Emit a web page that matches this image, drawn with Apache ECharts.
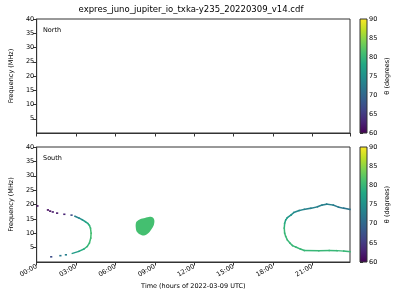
<!DOCTYPE html>
<html>
<head>
<meta charset="utf-8">
<script src="https://cdn.jsdelivr.net/npm/echarts@6/dist/echarts.min.js"></script>
<style>html,body{margin:0;padding:0;background:#fff}#c{width:400px;height:300px}</style>
</head>
<body>
<div id="c"></div>
<script>
// ---- data (hours, MHz, theta degrees) ----
const titleText = 'expres_juno_jupiter_io_txka-y235_20220309_v14.cdf';
const panelNames = ['North', 'South'];
const xTickHours = [0, 3, 6, 9, 12, 15, 18, 21];
const freqTicks = [5, 10, 15, 20, 25, 30, 35, 40];
const thetaTicks = [60, 65, 70, 75, 80, 85, 90];

// South: sparse points of the left arc
const southLeftDots = [
  [0.05, 19.5, 61], [0.85, 18.1, 61], [1.02, 17.7, 61], [1.22, 17.4, 62],
  [1.55, 17.0, 62], [2.1, 16.6, 63], [2.65, 16.3, 67],
  [1.1, 1.8, 67], [1.8, 2.2, 72], [2.22, 2.5, 73]
];
// South: continuous part of the left arc
const southLeftCurve = [
  [2.92, 15.9, 72], [3.22, 15.3, 74], [3.47, 14.7, 75], [3.72, 14.0, 77],
  [3.9, 13.4, 78], [4.02, 12.7, 79], [4.1, 11.8, 80], [4.15, 10.0, 81],
  [4.12, 8.3, 81], [4.02, 6.6, 80], [3.85, 5.4, 80], [3.6, 4.5, 79],
  [3.22, 3.7, 78], [2.72, 3.0, 75]
];
// South: right arc (top branch from right edge to nose, then lower branch)
const southRightCurve = [
  [23.88, 18.3, 71], [23.4, 18.7, 72], [23.0, 19.1, 72], [22.6, 19.8, 73],
  [22.1, 20.1, 73], [21.75, 19.8, 73], [21.4, 19.2, 73], [20.9, 18.7, 73],
  [20.4, 18.3, 73], [20.0, 17.9, 74], [19.6, 17.2, 74], [19.4, 16.4, 75],
  [19.1, 15.4, 76], [18.98, 14.6, 77], [18.9, 13.5, 78], [18.87, 11.8, 80],
  [18.9, 10.0, 80], [18.98, 8.9, 80], [19.1, 7.7, 80], [19.3, 6.6, 80],
  [19.5, 5.7, 80], [19.75, 5.2, 80], [20.1, 4.5, 80], [20.4, 4.0, 80],
  [21.5, 3.95, 80], [22.3, 4.0, 80], [22.9, 3.95, 80], [23.4, 3.8, 80],
  [23.88, 3.6, 80]
];
// South: blob outline (hours, MHz) and its theta
const southBlobOutline = [
  [7.62, 14.05], [7.88, 14.9], [8.25, 15.3], [8.63, 15.7], [8.87, 15.4],
  [8.97, 14.4], [8.93, 12.9], [8.75, 11.4], [8.5, 10.0], [8.18, 9.2],
  [7.88, 9.55], [7.62, 10.6], [7.55, 12.1], [7.55, 13.25]
];
const southBlobTheta = 81;

// ---- colour map ----
const VIRIDIS = ['#440154','#482475','#414487','#355f8d','#2a788e','#21918c','#22a884','#44bf70','#7ad151','#bddf26','#fde725'];
function hex2rgb(h){return [parseInt(h.substr(1,2),16),parseInt(h.substr(3,2),16),parseInt(h.substr(5,2),16)];}
function viridis(v){
  let t = Math.max(0, Math.min(1, (v - 60) / 30)) * 10;
  let i = Math.min(9, Math.floor(t)); let f = t - i;
  const a = hex2rgb(VIRIDIS[i]), b = hex2rgb(VIRIDIS[i+1]);
  const c = a.map((x,k)=>Math.round(x + (b[k]-x)*f));
  return 'rgb(' + c.join(',') + ')';
}

const FONT = 'DejaVu Sans';
const AX = '#333';
const G = [
  {left: 32, top: 19, width: 318, height: 114},
  {left: 32, top: 147, width: 318, height: 115}
];

function curveSeries(arr){
  return {
    type: 'custom', xAxisIndex: 1, yAxisIndex: 1, data: arr, clip: true,
    renderItem: function(params, api){
      const i = params.dataIndex;
      if (i >= arr.length - 1) return null;
      const p0 = api.coord([arr[i][0], arr[i][1]]);
      const p1 = api.coord([arr[i+1][0], arr[i+1][1]]);
      return {type: 'line', shape: {x1: p0[0], y1: p0[1], x2: p1[0], y2: p1[1]},
        style: {stroke: viridis((arr[i][2] + arr[i+1][2]) / 2), lineWidth: 1.5, lineCap: 'square'}};
    }
  };
}

function colorbarSeries(idx){
  return {
    type: 'custom', xAxisIndex: idx, yAxisIndex: idx, data: [[0, thetaTicks[0]]],
    renderItem: function(params, api){
      const a = api.coord([0, thetaTicks[thetaTicks.length-1]]);
      const b = api.coord([1, thetaTicks[0]]);
      const stops = VIRIDIS.map((c,k)=>({offset: 1 - k/10, color: c})).reverse();
      return {type: 'rect', shape: {x: a[0], y: a[1], width: b[0]-a[0], height: b[1]-a[1]},
        style: {fill: new echarts.graphic.LinearGradient(0,0,0,1, stops), stroke: AX, lineWidth: 1}};
    }
  };
}

const xFmt = v => (v < 10 ? '0' : '') + v + ':00';

const option = {
  animation: false,
  backgroundColor: '#fff',
  grid: [
    Object.assign({show: true, borderColor: AX, borderWidth: 1}, G[0]),
    Object.assign({show: true, borderColor: AX, borderWidth: 1}, G[1]),
    {left: 360, top: G[0].top, width: 7, height: G[0].height},
    {left: 360, top: G[1].top, width: 7, height: G[1].height}
  ],
  xAxis: [0,1].map(k => ({
    gridIndex: k, type: 'value', min: xTickHours[0], max: 23.88, interval: 3,
    axisLine: {show: true, lineStyle: {color: AX}},
    axisTick: {show: true, length: 3.5, lineStyle: {color: AX}},
    splitLine: {show: false},
    axisLabel: {show: k === 1, rotate: 30, fontSize: 6.5, fontFamily: FONT, color: '#000', margin: 4,
      formatter: xFmt, showMaxLabel: false},
    name: k === 1 ? 'Time (hours of 2022-03-09 UTC)' : '',
    nameLocation: 'middle', nameGap: 21,
    nameTextStyle: {fontFamily: FONT, fontSize: 6.5, color: '#000'}
  })).concat([2,3].map(k => ({gridIndex: k, type: 'value', min: 0, max: 1, show: false}))),
  yAxis: [0,1].map(k => ({
    gridIndex: k, type: 'value', min: 0, max: freqTicks[freqTicks.length-1], interval: 5,
    axisLine: {show: true, lineStyle: {color: AX}},
    axisTick: {show: true, length: 3.5, lineStyle: {color: AX}},
    splitLine: {show: false},
    axisLabel: {fontSize: 6.5, fontFamily: FONT, color: '#000', margin: 2.5, showMinLabel: false},
    name: 'Frequency (MHz)', nameLocation: 'middle', nameGap: 17,
    nameTextStyle: {fontFamily: FONT, fontSize: 6.5, color: '#000'}
  })).concat([2,3].map(k => ({
    gridIndex: k, type: 'value', position: 'right', min: thetaTicks[0], max: thetaTicks[thetaTicks.length-1], interval: 5,
    axisLine: {show: false},
    axisTick: {show: true, length: 3, lineStyle: {color: AX}},
    splitLine: {show: false},
    axisLabel: {fontSize: 6.5, fontFamily: FONT, color: '#000', margin: 2},
    name: 'θ (degrees)', nameLocation: 'middle', nameGap: 17, nameRotate: 90,
    nameTextStyle: {fontFamily: FONT, fontSize: 6.5, color: '#000'}
  }))),
  graphic: [
    {type: 'text', x: 191, y: 10, style: {text: titleText, font: '8.5px "DejaVu Sans"', fill: '#000',
      textAlign: 'center', textVerticalAlign: 'middle'}},
    {type: 'text', left: 43, top: 26.5, style: {text: panelNames[0], font: '6.5px "DejaVu Sans"', fill: '#000'}},
    {type: 'text', left: 43, top: 155, style: {text: panelNames[1], font: '6.5px "DejaVu Sans"', fill: '#000'}}
  ],
  series: [
    colorbarSeries(2),
    colorbarSeries(3),
    {
      type: 'custom', xAxisIndex: 1, yAxisIndex: 1, data: southBlobOutline, clip: true,
      renderItem: function(params, api){
        if (params.dataIndex !== 0) return null;
        const pts = southBlobOutline.map(p => api.coord(p));
        return {type: 'polygon', shape: {points: pts, smooth: 0.3},
          style: {fill: viridis(southBlobTheta)}};
      }
    },
    curveSeries(southLeftCurve),
    curveSeries(southRightCurve),
    {
      type: 'custom', xAxisIndex: 1, yAxisIndex: 1, data: southLeftDots, clip: true,
      renderItem: function(params, api){
        const p = api.coord([api.value(0), api.value(1)]);
        return {type: 'rect', shape: {x: p[0]-1, y: p[1]-0.8, width: 2.2, height: 1.6},
          style: {fill: viridis(api.value(2))}};
      }
    }
  ]
};
const chart = echarts.init(document.getElementById('c'), null, {renderer: 'canvas'});
chart.setOption(option);
</script>
</body>
</html>
